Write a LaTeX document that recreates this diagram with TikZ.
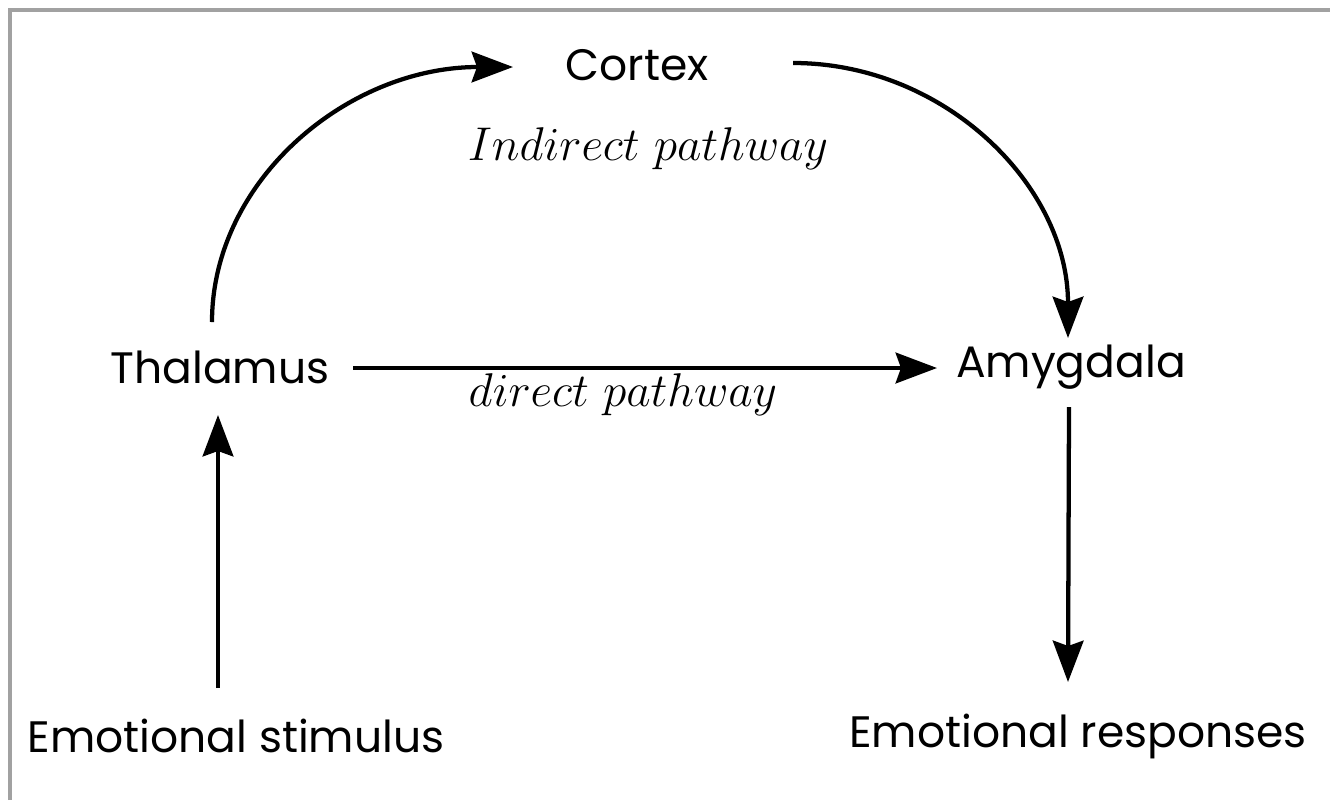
\documentclass[tikz,border=0pt]{standalone}
\usepackage{fix-cm}
\usepackage{fontspec}
\newfontfamily\geo{Poppins}
\usetikzlibrary{arrows.meta}
\definecolor{framegray}{RGB}{161,161,161}
\begin{document}
\begin{tikzpicture}[x=0.75pt,y=-0.75pt,
  lbl/.style={inner sep=0pt,anchor=base,font=\geo\fontsize{33}{40}\selectfont},
  ital/.style={inner sep=0pt,anchor=base,font=\fontsize{35.5}{42}\selectfont},
  arr/.style={line width=3.2pt,-{Stealth[length=31pt,width=23pt,inset=4pt]}},
  frame/.style={line width=3pt,draw=framegray}]
\useasboundingbox (0,0) rectangle (1330,800);
\fill[white] (0,0) rectangle (1330,800);
\draw[frame] (10,800) -- (10,10) -- (1330,10);
\node[lbl] (cortex) at (637,80) {Cortex};
\node[lbl] (thal) at (220,383) {Thalamus};
\node[lbl] (amyg) at (1071,377) {Amygdala};
\node[lbl] (stim) at (236,752) {Emotional stimulus};
\node[lbl] (resp) at (1078,747) {Emotional responses};
\node[ital] (ind) at (648,160) {$Indirect\ pathway$};
\node[ital] (dir) at (623,406) {$direct\ pathway$};
\draw[arr] ([shift={(-18,-64)}]stim.base) -- ([shift={(-2,32)}]thal.base);
\draw[arr] ([shift={(133,-15)}]thal.base) -- ([shift={(-134,-9)}]amyg.base);
\draw[arr] ([shift={(-8,-61)}]thal.base) .. controls +(0,-141) and +(-166,0) .. ([shift={(-124,-13)}]cortex.base);
\draw[arr] ([shift={(156,-17)}]cortex.base) .. controls +(152,0) and +(0,-152) .. ([shift={(-3,-39)}]amyg.base);
\draw[arr] ([shift={(-2,30)}]amyg.base) -- ([shift={(-10,-65)}]resp.base);
\end{tikzpicture}
\end{document}
